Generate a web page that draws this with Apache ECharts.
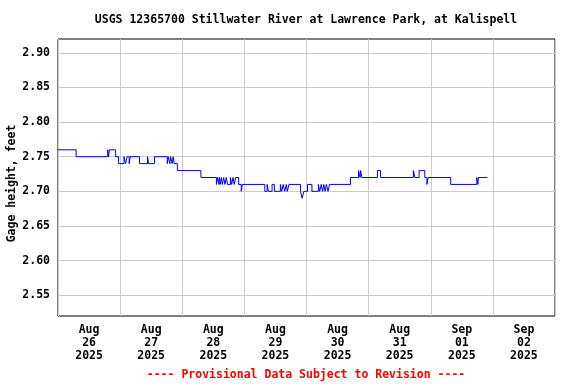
<!DOCTYPE html>
<html>
<head>
<meta charset="utf-8">
<script src="https://cdn.jsdelivr.net/npm/echarts@6/dist/echarts.min.js"></script>
<style>html,body{margin:0;padding:0;background:#fff}#c{width:576px;height:384px}</style>
</head>
<body>
<div id="c"></div>
<script>
// Hours since 2025-08-26 00:00 at which the gage height changes, and the new value
var hours = [0, 7.0, 19.2, 19.5, 19.9, 22.25, 23.4, 25.5, 26.1, 26.7, 27.5, 27.9, 31.5, 34.6, 35.0, 37.3,
  42.2, 42.6, 43.2, 43.5, 44.1, 44.5, 44.9, 46.1, 55.2, 61.2, 61.7, 62.2, 62.4, 62.7, 63.1, 63.5, 64.0,
  64.5, 65.0, 65.5, 66.6, 67.1, 67.6, 68.1, 68.6, 69.8, 70.8, 71.2, 79.9, 80.8, 81.3, 82.7, 83.6, 85.9,
  86.4, 87.0, 87.6, 88.2, 88.6, 89.2, 93.7, 94.3, 95.0, 96.4, 98.1, 100.6, 101.1, 101.7, 102.2, 102.7,
  103.2, 103.7, 104.3, 104.9, 113.0, 116.1, 116.7, 116.9, 117.4, 123.4, 124.6, 137.3, 137.9, 139.5,
  141.7, 142.5, 143.0, 151.7, 161.8, 162.2, 162.4, 165.9];
var gage = [2.76, 2.75, 2.76, 2.75, 2.76, 2.75, 2.74, 2.75, 2.74, 2.75, 2.74, 2.75, 2.74, 2.75, 2.74, 2.75,
  2.74, 2.75, 2.74, 2.75, 2.74, 2.75, 2.74, 2.73, 2.72, 2.71, 2.72, 2.71, 2.72, 2.71, 2.72, 2.71, 2.72,
  2.71, 2.72, 2.71, 2.72, 2.71, 2.72, 2.71, 2.72, 2.71, 2.70, 2.71, 2.70, 2.71, 2.70, 2.71, 2.70, 2.71,
  2.70, 2.71, 2.70, 2.71, 2.70, 2.71, 2.70, 2.69, 2.70, 2.71, 2.70, 2.71, 2.70, 2.71, 2.70, 2.71,
  2.70, 2.71, 2.70, 2.71, 2.72, 2.73, 2.72, 2.73, 2.72, 2.73, 2.72, 2.73, 2.72, 2.73,
  2.72, 2.71, 2.72, 2.71, 2.72, 2.71, 2.72, 2.72];

var dayMonths = ['Aug', 'Aug', 'Aug', 'Aug', 'Aug', 'Aug', 'Sep', 'Sep'];
var dayNums = ['26', '27', '28', '29', '30', '31', '01', '02'];
var dayYears = ['2025', '2025', '2025', '2025', '2025', '2025', '2025', '2025'];
var yTicks = [2.55, 2.60, 2.65, 2.70, 2.75, 2.80, 2.85, 2.90];

var titleText = 'USGS 12365700 Stillwater River at Lawrence Park, at Kalispell';
var footText = '---- Provisional Data Subject to Revision ----';

var FONT = '"DejaVu Sans Mono", "Liberation Mono", monospace';
var labelCenters = dayNums.map(function (d, i) { return 12 + 24 * i; });
var seriesData = hours.map(function (h, i) { return [h, gage[i]]; });

var chart = echarts.init(document.getElementById('c'), null, { renderer: 'canvas' });
chart.setOption({
  animation: false,
  backgroundColor: '#ffffff',
  graphic: [
    { type: 'text', x: 306, y: 20, style: { text: titleText, textAlign: 'center', textVerticalAlign: 'middle',
      font: 'bold 11.5px ' + FONT, fill: '#000' } },
    { type: 'text', x: 306, y: 375, style: { text: footText, textAlign: 'center', textVerticalAlign: 'middle',
      font: 'bold 11.5px ' + FONT, fill: '#ff0000' } }
  ],
  grid: { left: 58, right: 21, top: 39, bottom: 68, outerBoundsMode: 'none', containLabel: false,
    show: true, borderColor: '#000', borderWidth: 1, backgroundColor: 'transparent' },
  xAxis: {
    type: 'value', min: 0, max: 192, interval: 24,
    axisLine: { show: false }, axisTick: { show: false },
    splitLine: { show: true, lineStyle: { color: '#cccccc', width: 1 } },
    axisLabel: {
      customValues: labelCenters,
      margin: 8,
      lineHeight: 12.7,
      fontFamily: FONT, fontWeight: 'bold', fontSize: 11.5, color: '#000',
      formatter: function (v) {
        var i = Math.round((v - 12) / 24);
        return dayMonths[i] + '\n' + dayNums[i] + '\n' + dayYears[i];
      }
    }
  },
  yAxis: {
    type: 'value', min: 2.52, max: 2.92,
    name: 'Gage height, feet', nameLocation: 'middle', nameGap: 40, nameMoveOverlap: false,
    nameTextStyle: { fontFamily: FONT, fontWeight: 'bold', fontSize: 11.5, color: '#000', padding: [0, 12, 0, 0] },
    axisLine: { show: false },
    axisTick: { show: false, customValues: yTicks },
    splitLine: { show: true, lineStyle: { color: '#cccccc', width: 1 } },
    axisLabel: {
      customValues: yTicks, margin: 8,
      fontFamily: FONT, fontWeight: 'bold', fontSize: 11.5, color: '#000',
      formatter: function (v) { return v.toFixed(2); }
    }
  },
  series: [{
    type: 'line', step: 'end', data: seriesData, showSymbol: false, symbol: 'none',
    lineStyle: { color: '#0000ff', width: 1 }, itemStyle: { color: '#0000ff' }
  }]
});
</script>
</body>
</html>
